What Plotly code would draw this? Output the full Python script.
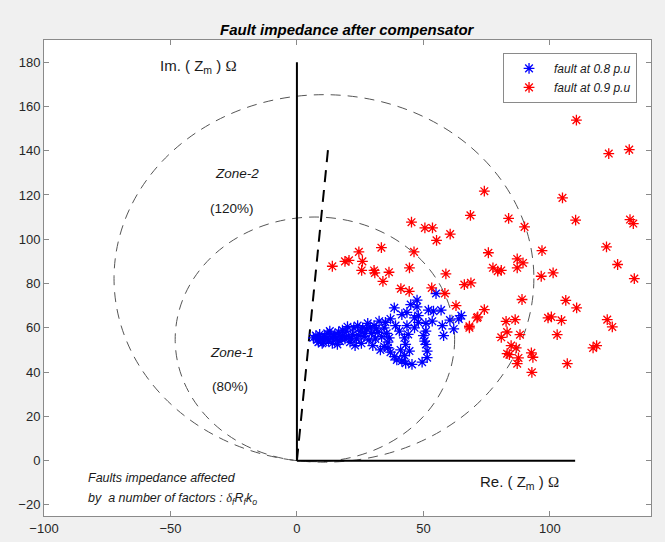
import numpy as np
import plotly.graph_objects as go

# ---------------- data ----------------
blue_x = [6.5, 7.5, 8, 9, 9.5, 10.5, 11, 12, 12.5, 13.5, 14, 15, 15.5, 16.5, 17, 18, 19, 19.5, 20.5, 21,
          22, 22.5, 23.5, 24, 25, 25.5, 26.5, 27.5, 28, 28.5, 29.5, 30.5, 31, 32, 32.5, 33.5, 34.5, 35, 35.5, 36,
          36.5, 37, 36, 37, 38.5, 39.5, 41.5, 43, 45.5, 42.5, 41, 43, 44.5, 42.5, 44, 40.5, 39, 38.5, 41.5, 43.5,
          45, 47.5, 47.5, 46.5, 43.5, 46.5, 48, 50, 51, 50.5, 51, 51.5, 51.5, 51, 52, 54, 57, 55, 57.5, 58,
          60.5, 62, 65, 64, 30, 33, 34.5, 26, 20, 18, 10, 13, 16, 23, 29, 48, 49.5, 53.5,
          8.5, 11.5, 14.5, 17.5, 21.5, 24.5, 27, 31.5]
blue_y = [55.5, 56.5, 54.5, 57, 55, 53.5, 56, 57.5, 54, 55.8, 53, 57, 55, 58, 54, 56.5, 55, 58.5, 56, 53.5,
          57, 60, 55, 61, 58.5, 53, 56, 59.5, 62, 54.5, 57.5, 61, 55, 58, 63, 56, 60, 62.5, 57.5, 53.5,
          55.5, 64, 51, 49, 47, 45.5, 45, 44, 43.5, 47.5, 50, 52.5, 49.5, 55.5, 57, 58.5, 61, 69, 66, 67,
          70.5, 72.5, 69.5, 64.5, 61, 60, 62.5, 56.5, 58.5, 54, 52.5, 49.5, 46.5, 62, 68, 67.5, 68, 75.5, 61, 56.5,
          63.5, 59.5, 65.5, 64, 52, 50, 51.5, 60, 60.5, 59, 53, 58.5, 52.5, 52, 60, 65.5, 44.5, 63,
          53.5, 55, 56, 55.5, 55, 56.5, 57.5, 59.5]

red_x = [110.5, 123.3, 131.4, 74.1, 105, 68.6, 83.7, 110.2, 131.7, 133, 90, 60.6, 96.9, 122.4, 75.7, 126.8,
         133.4, 87.1, 89.4, 87.1, 77.5, 79.4, 80.8, 96.6, 101.3, 58.9, 66.2, 68.8, 58.5, 89, 106.3, 110.6,
         62.9, 74.1, 71.2, 68.2, 82.7, 86.3, 99.3, 100.6, 104.6, 122.7, 124.7, 83.1, 80.8, 88.2, 102.9, 84.7,
         84, 87.6, 87.1, 92.7, 93.3, 92.9, 106.9, 117.1, 118.5, 86.7, 83.1, 68.2, 45.3, 50.6, 53.6, 55.2,
         33.4, 24.5, 46.3, 14, 19, 20.6, 25.9, 25.6, 30.5, 30.8, 36.4, 34, 44.5, 41.1, 44.4, 53.3, 71.5]
red_y = [153.8, 138.7, 140.5, 121.7, 118.7, 110.8, 109.4, 108.6, 108.9, 107.1, 105.6, 102.3, 94.9, 96.6, 93.9, 88.6,
         82.2, 91.1, 89.3, 87.1, 87.1, 85.6, 85.9, 83.3, 84.8, 84.4, 79.5, 80.3, 75.5, 72.8, 72.4, 69,
         70, 68.2, 64.5, 60.7, 62.9, 63.7, 64.5, 64.9, 63.4, 63.7, 60.4, 58.1, 55.7, 56.9, 56.9, 52,
         47.9, 46.4, 43.8, 48.7, 46.7, 39.9, 43.8, 50.9, 52, 50.9, 48.3, 60, 107.7, 105.1, 105.1, 99.5,
         96.2, 94.3, 94.3, 87.8, 90, 90.5, 90, 85.9, 85.9, 84.8, 85.1, 81, 87.1, 77.7, 76.5, 78, 64.9]

series_names = ["fault at 0.8 p.u", "fault at 0.9 p.u"]

# relay characteristic
line_angle_deg = 85.0        # protected line angle
line_length = 141.5          # impedance of line (Ohm)
zone_angle_deg = 82.6        # mho characteristic angle
zone1_reach = 110.5          # diameter zone-1 (80%)
zone2_reach = 166.0          # diameter zone-2 (120%)
im_axis_len = 180
re_axis_len = 110

x_ticks = [-100, -50, 0, 50, 100]
y_ticks = [-20, 0, 20, 40, 60, 80, 100, 120, 140, 160, 180]

# ---------------- figure ----------------
fig = go.Figure()

fig.add_trace(go.Scatter(x=[0, 0], y=[0, im_axis_len], mode="lines",
                         line=dict(color="black", width=2), showlegend=False, hoverinfo="skip"))
fig.add_trace(go.Scatter(x=[0, re_axis_len], y=[0, 0], mode="lines",
                         line=dict(color="black", width=2), showlegend=False, hoverinfo="skip"))
a = np.deg2rad(line_angle_deg)
fig.add_trace(go.Scatter(x=[0, line_length * np.cos(a)], y=[0, line_length * np.sin(a)], mode="lines",
                         line=dict(color="black", width=2, dash="12px,8px"), showlegend=False, hoverinfo="skip"))

za = np.deg2rad(zone_angle_deg)
for d in (zone1_reach, zone2_reach):
    r = d / 2
    cx, cy = r * np.cos(za), r * np.sin(za)
    fig.add_shape(type="circle", xref="x", yref="y", x0=cx - r, x1=cx + r, y0=cy - r, y1=cy + r,
                  line=dict(color="#555555", width=1, dash="10px,7px"), layer="below")

fig.add_trace(go.Scatter(x=blue_x, y=blue_y, mode="markers", name="<i>" + series_names[0] + "</i>",
                         marker=dict(symbol="asterisk-open", size=9, color="blue",
                                     line=dict(width=1.3, color="blue"))))
fig.add_trace(go.Scatter(x=red_x, y=red_y, mode="markers", name="<i>" + series_names[1] + "</i>",
                         marker=dict(symbol="asterisk-open", size=9, color="red",
                                     line=dict(width=1.3, color="red"))))

FONT = "Liberation Sans, Arial, Helvetica, sans-serif"

def ann(x, y, text, size=13, xanchor="left"):
    fig.add_annotation(x=x, y=y, xref="x", yref="y", text=text, showarrow=False,
                       xanchor=xanchor, yanchor="middle", font=dict(family=FONT, size=size, color="#1a1a1a"))

ann(-55, 178, "Im. ( Z<sub>m</sub> ) <span style='font-family:Liberation Serif'>Ω</span>", 15)
ann(71.5, -10, "Re. ( Z<sub>m</sub> ) <span style='font-family:Liberation Serif'>Ω</span>", 15)
ann(-23.5, 129.5, "<i>Zone-2</i>", 13.5, "center")
ann(-25.5, 114, "(120%)", 13.5, "center")
ann(-25.5, 49, "<i>Zone-1</i>", 13.5, "center")
ann(-26.5, 33.5, "(80%)", 13.5, "center")
ann(-83.5, -8, "<i>Faults impedance affected</i>", 12.5)
ann(-83.5, -17.5, "<i>by  a number of factors : <span style='font-family:Liberation Serif'>δ</span><sub>f</sub>R<sub>f</sub>k<sub>o</sub></i>", 12.5)

# title
fig.add_annotation(x=0.5, y=1 + 11 / 476, xref="paper", yref="paper", xanchor="center", yanchor="middle",
                   showarrow=False, text="<b><i>Fault impedance after compensator</i></b>",
                   font=dict(family=FONT, size=15, color="black"))

axis_common = dict(showgrid=False, zeroline=False, showline=True, linecolor="#8a8a8a", linewidth=1,
                   mirror="allticks", ticks="inside", ticklen=5, tickcolor="#8a8a8a", automargin=False,
                   tickfont=dict(family=FONT, size=13, color="#262626"))

fig.update_layout(
    width=665, height=542,
    paper_bgcolor="#f0f0f0", plot_bgcolor="white",
    margin=dict(l=44, r=14, t=40, b=26, autoexpand=False),
    xaxis=dict(range=[-100, 140], tickvals=x_ticks, **axis_common),
    yaxis=dict(range=[-25, 190], tickvals=y_ticks, **axis_common),
    legend=dict(x=0.977, y=0.973, xanchor="right", yanchor="top", bgcolor="white",
                bordercolor="#8a8a8a", borderwidth=1,
                font=dict(family=FONT, size=12, color="#1a1a1a"), itemwidth=40, tracegroupgap=0),
    showlegend=True,
)

fig.write_html("out.html", config={"displayModeBar": False},
               post_script="document.body.style.margin='0';document.body.style.padding='0';")
